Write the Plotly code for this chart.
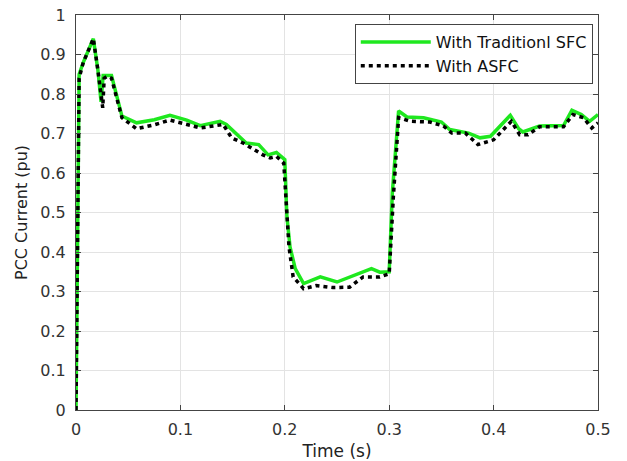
import plotly.graph_objects as go

# Traditional SFC (green)
t_sfc = [0, 0.003, 0.007, 0.012, 0.0166, 0.021, 0.024, 0.026, 0.030, 0.034, 0.044, 0.058,
         0.075, 0.090, 0.106, 0.119, 0.138, 0.144, 0.163, 0.175, 0.184, 0.192, 0.200,
         0.202, 0.205, 0.210, 0.218, 0.234, 0.250, 0.266, 0.283, 0.291, 0.300, 0.303,
         0.309, 0.317, 0.333, 0.350, 0.358, 0.376, 0.387, 0.397, 0.416, 0.424, 0.428,
         0.444, 0.467, 0.475, 0.484, 0.492, 0.500]
i_sfc = [0, 0.85, 0.88, 0.91, 0.94, 0.86, 0.78, 0.847, 0.847, 0.847, 0.744, 0.727,
         0.735, 0.746, 0.734, 0.720, 0.731, 0.723, 0.676, 0.672, 0.646, 0.652, 0.634,
         0.49, 0.413, 0.358, 0.320, 0.337, 0.324, 0.341, 0.358, 0.349, 0.350, 0.55,
         0.757, 0.742, 0.740, 0.729, 0.710, 0.701, 0.689, 0.693, 0.746, 0.712, 0.704,
         0.719, 0.720, 0.759, 0.748, 0.731, 0.748]

# ASFC (black dotted)
t_asfc = [0, 0.003, 0.007, 0.012, 0.0166, 0.021, 0.0256, 0.027, 0.030, 0.034, 0.044, 0.058,
          0.075, 0.090, 0.0996, 0.119, 0.141, 0.149, 0.160, 0.168, 0.179, 0.186, 0.192,
          0.199, 0.204, 0.208, 0.218, 0.230, 0.246, 0.262, 0.275, 0.291, 0.300, 0.304,
          0.309, 0.320, 0.339, 0.352, 0.360, 0.373, 0.385, 0.400, 0.417, 0.425, 0.433,
          0.444, 0.467, 0.476, 0.486, 0.494, 0.500]
i_asfc = [0, 0.84, 0.88, 0.91, 0.94, 0.86, 0.765, 0.84, 0.845, 0.84, 0.740, 0.712,
          0.722, 0.734, 0.727, 0.714, 0.723, 0.689, 0.676, 0.663, 0.646, 0.638, 0.642,
          0.625, 0.413, 0.337, 0.307, 0.315, 0.310, 0.311, 0.337, 0.337, 0.345, 0.54,
          0.740, 0.731, 0.729, 0.719, 0.701, 0.701, 0.672, 0.684, 0.731, 0.697, 0.697,
          0.717, 0.717, 0.748, 0.740, 0.714, 0.727]

x_ticks = [0, 0.1, 0.2, 0.3, 0.4, 0.5]
x_labels = ["0", "0.1", "0.2", "0.3", "0.4", "0.5"]
y_ticks = [0, 0.1, 0.2, 0.3, 0.4, 0.5, 0.6, 0.7, 0.8, 0.9, 1]
y_labels = ["0", "0.1", "0.2", "0.3", "0.4", "0.5", "0.6", "0.7", "0.8", "0.9", "1"]

FONT = "DejaVu Sans, Arial, sans-serif"

fig = go.Figure()
fig.add_trace(go.Scatter(x=t_sfc, y=i_sfc, mode="lines", name="With Traditionl SFC",
                         line=dict(color="#1fe81f", width=3.5)))
fig.add_trace(go.Scatter(x=t_asfc, y=i_asfc, mode="lines", name="With ASFC",
                         line=dict(color="black", width=3.5, dash="4px,4px")))

axis_common = dict(showgrid=True, gridcolor="#e3e3e3", gridwidth=1,
                   showline=True, linecolor="#444444", linewidth=1, mirror="ticks",
                   ticks="inside", ticklen=5, tickcolor="#444444", zeroline=False,
                   automargin=False,
                   tickfont=dict(family=FONT, size=16, color="#333"))

fig.update_xaxes(range=[0, 0.5], tickvals=x_ticks, ticktext=x_labels,
                 ticklabelstandoff=5,
                 title=dict(text="Time (s)", standoff=6,
                            font=dict(family=FONT, size=17, color="#222")),
                 **axis_common)
fig.update_yaxes(range=[0, 1], tickvals=y_ticks, ticktext=y_labels,
                 ticklabelstandoff=6,
                 title=dict(text="PCC Current (pu)", standoff=8,
                            font=dict(family=FONT, size=16, color="#222")),
                 **axis_common)

fig.update_layout(
    width=627, height=461,
    margin=dict(l=76, r=29, t=15, b=51),
    plot_bgcolor="white", paper_bgcolor="white",
    showlegend=True,
    legend=dict(x=0.99, y=0.977, xanchor="right", yanchor="top",
                bgcolor="white", bordercolor="#444444", borderwidth=1,
                font=dict(family=FONT, size=16, color="#111"),
                tracegroupgap=0, itemwidth=70),
)

fig.write_html("out.html")
